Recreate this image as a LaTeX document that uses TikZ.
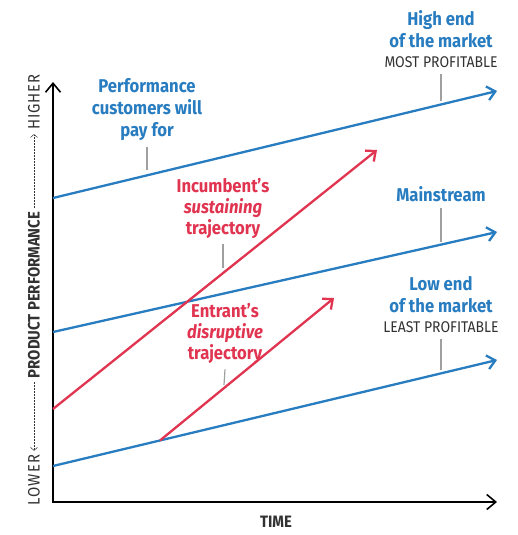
\documentclass[tikz,border=0pt]{standalone}
\usepackage{fontspec}
\setmainfont{Fira Sans}[FakeStretch=0.9]
\usetikzlibrary{arrows.meta,positioning,calc}
\definecolor{mktblue}{RGB}{40,124,192}
\definecolor{trjred}{RGB}{224,52,80}
\definecolor{tickgray}{RGB}{160,160,160}
\definecolor{capgray}{RGB}{50,50,50}
\newcommand{\capfont}{\mdseries\fontsize{15.5}{18}\selectfont\color{capgray}}

\begin{document}
\begin{tikzpicture}[x=1pt,y=-1pt,
  axis/.style={line width=1.6pt,{Straight Barb[length=9pt,width=15pt]}-{Straight Barb[length=9pt,width=15pt]}},
  market/.style={mktblue,line width=2.3pt,-{Straight Barb[length=8pt,width=14pt]}},
  traj/.style={trjred,line width=2.3pt,-{Straight Barb[length=8pt,width=14pt]}},
  bluetxt/.style={align=center,inner sep=0pt,text=mktblue,font=\bfseries\fontsize{18.5}{22}\selectfont},
  redtxt/.style={align=center,inner sep=0pt,text=trjred,font=\bfseries\fontsize{18.5}{21}\selectfont},
  ylab/.style={rotate=90,inner sep=4pt,text=capgray,font=\fontsize{16.5}{18}\selectfont\addfontfeature{LetterSpace=6}},
  ydash/.style={capgray,line width=0.5pt,dash pattern=on 1.5pt off 1.5pt,-{Straight Barb[length=3pt,width=7pt]}},
  tick/.style={tickgray,line width=1.2pt}]
\fill[white](0,0)rectangle(517,535);
\useasboundingbox(0,0)rectangle(517,535);
% axes
\coordinate(o)at(53,502);
\coordinate(ytop)at(53,82);
\coordinate(xend)at(497,502);
\draw[axis](ytop)--(o)--(xend);
\node[font=\bfseries\fontsize{16.5}{18}\selectfont,text=capgray](time)at(276,522){TIME};
\node[ylab,font=\bfseries\fontsize{16.5}{18}\selectfont](pp)at(34,295){PRODUCT PERFORMANCE};
\node[ylab](higher)at(34,102){HIGHER};
\node[ylab](lower)at(34,480){LOWER};
\draw[ydash](pp.east)--(higher.west);
\draw[ydash](pp.west)--(lower.east);
% market lines
\coordinate(hiS)at(53,198);\coordinate(hiE)at(497,91);
\coordinate(mdS)at(53,332);\coordinate(mdE)at(497,232);
\coordinate(loS)at(53,466);\coordinate(loE)at(497,360);
\draw[market](hiS)--(hiE);
\draw[market](mdS)--(mdE);
\draw[market](loS)--(loE);
% trajectories
\coordinate(inS)at(53,409);\coordinate(inE)at(377,150);
\coordinate(enS)at($(loS)!0.241!(loE)$);\coordinate(enE)at(334,298);
\draw[traj](inS)--(inE);
\draw[traj](enS)--(enE);
% labels
\node[bluetxt](hiLbl)at(441,39){High end\\of the market\\[-2pt]{\capfont MOST PROFITABLE}};
\node[bluetxt](perfLbl)at(147,110){Performance\\customers will\\pay for};
\node[bluetxt](mainLbl)at(441,194){Mainstream};
\node[bluetxt](loLbl)at(441,305){Low end\\of the market\\[-2pt]{\capfont LEAST PROFITABLE}};
\node[redtxt](incLbl)at(223,208){Incumbent’s\\\textit{sustaining}\\trajectory};
\node[redtxt](entLbl)at(225,333){Entrant’s\\\textit{disruptive}\\trajectory};
% ticks
\coordinate(hiT)at(441,101);\coordinate(perfT)at(147,170);
\coordinate(mainT)at(441,242);\coordinate(loT)at(441,370);
\coordinate(incT)at(223,268);\coordinate(entT)at(224,385);
\draw[tick]([yshift=-6pt]hiLbl.south)--(hiT);
\draw[tick]([yshift=-6pt]perfLbl.south)--(perfT);
\draw[tick]([yshift=-6pt]mainLbl.south)--(mainT);
\draw[tick]([yshift=-6pt]loLbl.south)--(loT);
\draw[tick]([yshift=-6pt]incLbl.south)--(incT);
\draw[tick]([yshift=-6pt]entLbl.south)--(entT);
\end{tikzpicture}
\end{document}
